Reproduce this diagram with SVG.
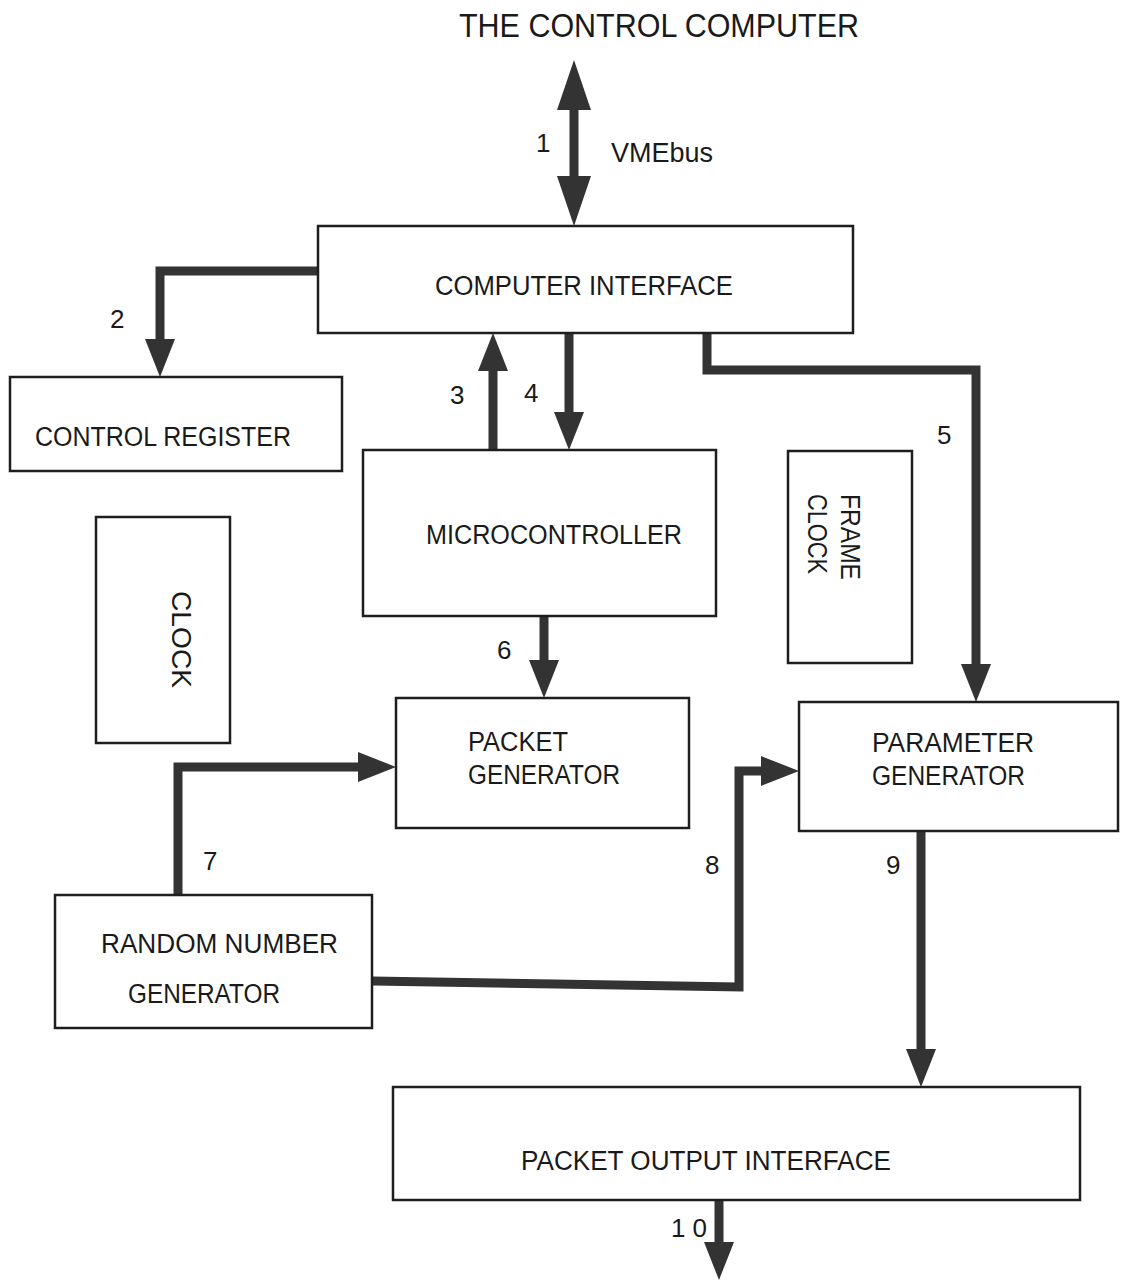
<svg xmlns="http://www.w3.org/2000/svg" width="1121" height="1283" viewBox="0 0 1121 1283">
  <style>
    .box { fill: none; stroke: #1e1e1e; stroke-width: 2.5; }
    .lbl { font-family: "Liberation Sans", Arial, sans-serif; font-size: 27px; fill: #1a1a1a; }
    .num { font-family: "Liberation Sans", Arial, sans-serif; font-size: 26px; fill: #1a1a1a; }
    .title { font-family: "Liberation Sans", Arial, sans-serif; font-size: 34px; fill: #1a1a1a; }
    .bus { fill: none; stroke: #333; stroke-width: 9; stroke-linejoin: miter; stroke-linecap: butt; }
  </style>
  <defs>
    <!-- standard arrowhead: 38 long, 30 wide; line ends 15px short of the tip -->
    <marker id="head" viewBox="0 0 38 30" markerWidth="38" markerHeight="30" markerUnits="userSpaceOnUse" refX="23" refY="15" orient="auto">
      <path d="M0,0 L38,15 L0,30 Z" fill="#333"/>
    </marker>
    <!-- larger head for the VMEbus link -->
    <marker id="bighead" viewBox="0 0 50 34" markerWidth="50" markerHeight="34" markerUnits="userSpaceOnUse" refX="32" refY="17" orient="auto-start-reverse">
      <path d="M0,0 L50,17 L0,34 Z" fill="#333"/>
    </marker>
  </defs>

  <rect width="1121" height="1283" fill="#fff"/>

  <text class="title" x="459" y="37" textLength="400" lengthAdjust="spacingAndGlyphs">THE CONTROL COMPUTER</text>

  <g id="connectors">
    <path id="c1" class="bus" d="M574,78 V208" marker-start="url(#bighead)" marker-end="url(#bighead)"/>
    <path id="c2" class="bus" d="M318,271 H160 V362" marker-end="url(#head)"/>
    <path id="c3" class="bus" d="M493,450 V348" marker-end="url(#head)"/>
    <path id="c4" class="bus" d="M569,333 V435" marker-end="url(#head)"/>
    <path id="c5" class="bus" d="M707,333 V370 H976 V687" marker-end="url(#head)"/>
    <path id="c6" class="bus" d="M544,616 V683" marker-end="url(#head)"/>
    <path id="c7" class="bus" d="M178,895 V767 H381" marker-end="url(#head)"/>
    <path id="c8" class="bus" d="M372,981 L739,987 V771 H784" marker-end="url(#head)"/>
    <path id="c9" class="bus" d="M921,831 V1072" marker-end="url(#head)"/>
    <path id="c10" class="bus" d="M719,1200 V1265" marker-end="url(#head)"/>
    <text class="num" x="536" y="152">1</text>
    <text class="lbl" x="611" y="162" font-size="25" textLength="102" lengthAdjust="spacingAndGlyphs">VMEbus</text>
    <text class="num" x="110" y="328">2</text>
    <text class="num" x="450" y="404">3</text>
    <text class="num" x="524" y="402">4</text>
    <text class="num" x="937" y="444">5</text>
    <text class="num" x="497" y="659">6</text>
    <text class="num" x="203" y="870">7</text>
    <text class="num" x="705" y="874">8</text>
    <text class="num" x="886" y="874">9</text>
    <text class="num" x="671" y="1237" textLength="36" lengthAdjust="spacing">1 0</text>
  </g>

  <g id="computer-interface">
    <rect class="box" x="318" y="226" width="535" height="107"/>
    <text class="lbl" x="435" y="295" textLength="298" lengthAdjust="spacingAndGlyphs">COMPUTER INTERFACE</text>
  </g>

  <g id="control-register">
    <rect class="box" x="10" y="377" width="332" height="94"/>
    <text class="lbl" x="35" y="446" textLength="256" lengthAdjust="spacingAndGlyphs">CONTROL REGISTER</text>
  </g>

  <g id="microcontroller">
    <rect class="box" x="363" y="450" width="353" height="166"/>
    <text class="lbl" x="426" y="544" textLength="256" lengthAdjust="spacingAndGlyphs">MICROCONTROLLER</text>
  </g>

  <g id="frame-clock">
    <rect class="box" x="788" y="451" width="124" height="212"/>
    <text class="lbl" transform="translate(841,494) rotate(90)" textLength="86" lengthAdjust="spacingAndGlyphs">FRAME</text>
    <text class="lbl" transform="translate(808,494) rotate(90)" textLength="80" lengthAdjust="spacingAndGlyphs">CLOCK</text>
  </g>

  <g id="clock">
    <rect class="box" x="96" y="517" width="134" height="226"/>
    <text class="lbl" transform="translate(172,591) rotate(90)" textLength="97" lengthAdjust="spacingAndGlyphs">CLOCK</text>
  </g>

  <g id="packet-generator">
    <rect class="box" x="396" y="698" width="293" height="130"/>
    <text class="lbl" x="468" y="751" textLength="100" lengthAdjust="spacingAndGlyphs">PACKET</text>
    <text class="lbl" x="468" y="784" textLength="152" lengthAdjust="spacingAndGlyphs">GENERATOR</text>
  </g>

  <g id="parameter-generator">
    <rect class="box" x="799" y="702" width="319" height="129"/>
    <text class="lbl" x="872" y="752" textLength="162" lengthAdjust="spacingAndGlyphs">PARAMETER</text>
    <text class="lbl" x="872" y="785" textLength="153" lengthAdjust="spacingAndGlyphs">GENERATOR</text>
  </g>

  <g id="random-number-generator">
    <rect class="box" x="55" y="895" width="317" height="133"/>
    <text class="lbl" x="101" y="953" textLength="237" lengthAdjust="spacingAndGlyphs">RANDOM NUMBER</text>
    <text class="lbl" x="128" y="1003" textLength="152" lengthAdjust="spacingAndGlyphs">GENERATOR</text>
  </g>

  <g id="packet-output-interface">
    <rect class="box" x="393" y="1087" width="687" height="113"/>
    <text class="lbl" x="521" y="1170" textLength="370" lengthAdjust="spacingAndGlyphs">PACKET OUTPUT INTERFACE</text>
  </g>
</svg>
